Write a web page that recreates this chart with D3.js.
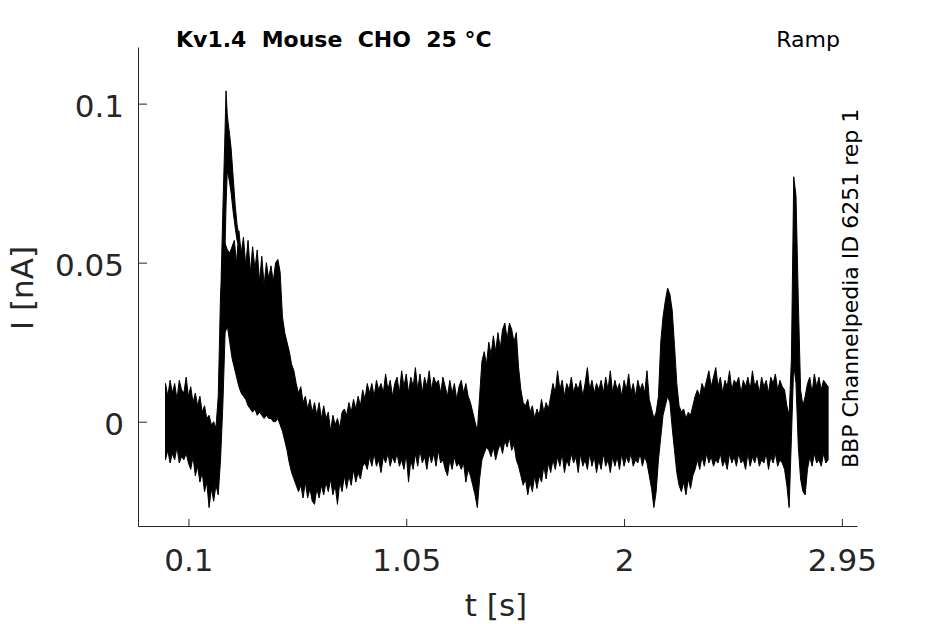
<!DOCTYPE html>
<html>
<head>
<meta charset="utf-8">
<script src="https://cdn.jsdelivr.net/npm/d3@7"></script>
<style>
  body { margin: 0; background: #fff; }
  svg { font-family: "DejaVu Sans", sans-serif; }
  .axis path, .axis line { stroke: #262626; stroke-width: 1; }
  .axis text { fill: #262626; font-size: 31px; font-family: "DejaVu Sans", sans-serif; }
</style>
</head>
<body>
<svg class="one"></svg>
<script>
// trace sampled every 10 ms from t = 0, envelope (max / min over reps) in pA
var sampleStart = 0;
var sampleStep = 0.01;

var traceHi = [
  12, 8, 13, 9, 12, 7, 13, 10, 9, 14,
  8, 11, 6, 9, 5, 8, 3, 5, 1, 2,
  -1, 0, -2, 8, 40, 52, 56, 54, 53, 55,
  57, 50, 60, 53, 58, 49, 57, 47, 55, 48,
  54, 44, 52, 43, 50, 45, 49, 44, 50, 51,
  47, 33, 28, 25, 22, 18, 16, 12, 9, 11,
  6, 8, 4, 7, 3, 6, 2, 6, 1, 5,
  1, 3, -3, 2, -1, 1, -2, 3, 4, 2,
  6, 3, 7, 4, 8, 5, 10, 7, 12, 9,
  12, 8, 13, 10, 12, 9, 15, 10, 13, 8,
  12, 14, 9, 16, 11, 15, 9, 14, 11, 17,
  10, 15, 9, 14, 11, 16, 10, 14, 12, 13,
  9, 14, 11, 8, 13, 9, 12, 7, 11, 13,
  9, 12, 8, 6, 3, 0, -3, 8, 19, 22,
  18, 25, 21, 27, 22, 28, 23, 29, 31, 26,
  31, 29, 25, 28, 17, 10, 6, 5, 7, 3,
  5, 1, 4, 2, 7, 3, 6, 4, 8, 12,
  9, 16, 10, 13, 8, 12, 10, 14, 9, 12,
  10, 13, 8, 12, 17, 10, 13, 9, 12, 10,
  13, 9, 14, 10, 16, 9, 13, 10, 12, 8,
  13, 10, 15, 9, 12, 8, 13, 10, 12, 9,
  16, 7, 4, 1, 3, 8, 25, 33, 38, 42,
  40, 35, 24, 12, 5, 3, 4, 1, 3, 2,
  5, 8, 10, 8, 12, 10, 13, 16, 11, 14,
  17, 11, 14, 9, 13, 11, 16, 10, 13, 12,
  14, 9, 13, 11, 14, 10, 16, 11, 13, 9,
  14, 11, 13, 9, 14, 12, 15, 10, 13, 11,
  10, 5, 2, 20, 77, 71, 38, 10, 5, 8,
  12, 14, 9, 15, 11, 14, 10, 13, 12, 11
];

var traceLo = [
  -12, -9, -13, -10, -12, -8, -13, -11, -12, -10,
  -13, -15, -11, -17, -14, -19, -16, -22, -19, -27,
  -21, -25, -20, -23, -12, 5, 28, 30, 25, 20,
  17, 14, 11, 9, 8, 7, 5, 4, 3, 4,
  2, 3, 2, 1, 2, 1, 1, 0, 0, 1,
  -1, -3, -6, -9, -13, -16, -18, -20, -22, -20,
  -24, -19, -24, -21, -25, -26, -21, -24, -20, -23,
  -19, -22, -18, -23, -20, -26, -19, -22, -17, -21,
  -17, -20, -15, -19, -16, -18, -14, -13, -15, -11,
  -14, -10, -14, -12, -16, -11, -13, -10, -14, -11,
  -13, -10, -14, -12, -15, -10, -19, -12, -15, -10,
  -14, -9, -13, -11, -15, -10, -13, -10, -14, -9,
  -13, -12, -15, -17, -12, -15, -11, -14, -13, -15,
  -13, -19, -15, -17, -20, -23, -27, -18, -12, -10,
  -8, -9, -11, -8, -12, -9, -7, -10, -6, -8,
  -5, -9, -7, -12, -14, -17, -20, -18, -23, -19,
  -22, -17, -21, -17, -19, -14, -18, -13, -16, -12,
  -15, -11, -14, -10, -16, -12, -14, -10, -13, -11,
  -16, -10, -14, -12, -15, -10, -14, -11, -16, -12,
  -15, -10, -14, -12, -16, -11, -14, -11, -15, -10,
  -14, -11, -13, -10, -14, -12, -13, -10, -14, -11,
  -13, -17, -21, -27, -22, -12, -5, 2, 5, 8,
  6, -2, -9, -16, -20, -22, -19, -23, -18, -21,
  -17, -15, -12, -15, -11, -14, -10, -13, -11, -14,
  -12, -13, -10, -14, -12, -15, -10, -13, -11, -14,
  -10, -13, -12, -15, -10, -14, -11, -13, -10, -14,
  -12, -13, -10, -15, -11, -13, -10, -14, -12, -13,
  -15, -20, -27, -5, 18, 12, -8, -18, -22, -23,
  -15, -11, -14, -10, -13, -12, -14, -10, -13, -12
];

// the single large transient right after the step
var peakT  = [0.243, 0.251, 0.258, 0.264, 0.269, 0.273, 0.280, 0.286, 0.295, 0.304, 0.312, 0.321];
var peakHi = [46, 69, 87, 104, 97, 94, 90, 86, 77, 68, 62, 58];
var peakLo = [0, 30, 50, 68, 78, 78, 75, 72, 66, 61, 57, 55];

var xTicks = [0.1, 1.05, 2, 2.95];
var yTicks = [0, 0.05, 0.1];

var titleText = 'Kv1.4\u00a0\u00a0Mouse\u00a0\u00a0CHO\u00a0\u00a025 \u00b0C';
var protocolText = 'Ramp';
var sideText = 'BBP Channelpedia ID 6251 rep 1';

var svgwidth = 945;
var svgheight = 624;

var svg = d3.select('.one')
            .attr('width', svgwidth)
            .attr('height', svgheight);

var xScale = d3.scaleLinear()
               .domain([-0.12, 3.016])
               .range([138, 857]);

var yScale = d3.scaleLinear()
               .domain([-0.0328, 0.1178])
               .range([526, 47]);

var trace = traceHi.map(function(d, i){
  return {t: sampleStart + i*sampleStep, hi: d/1000, lo: traceLo[i]/1000};
});

var peak = peakT.map(function(d, i){
  return {t: d, hi: peakHi[i]/1000, lo: peakLo[i]/1000};
});

var areamake = d3.area()
                 .x(function(d){ return xScale(d.t); })
                 .y0(function(d){ return yScale(d.lo); })
                 .y1(function(d){ return yScale(d.hi); });

svg.append('path')
   .datum(trace)
   .attr('d', areamake)
   .attr('fill', '#000')
   .attr('stroke', '#000')
   .attr('stroke-width', 1)
   .attr('stroke-linejoin', 'round');

svg.append('path')
   .datum(peak)
   .attr('d', areamake)
   .attr('fill', '#000')
   .attr('stroke', '#000')
   .attr('stroke-width', 1)
   .attr('stroke-linejoin', 'round');

var xAxis = d3.axisBottom(xScale)
              .tickValues(xTicks)
              .tickFormat(function(d){ return String(d); })
              .tickSizeInner(-7)
              .tickSizeOuter(0)
              .tickPadding(23);

svg.append('g').classed('axis', true)
   .attr('transform', 'translate(0,526)')
   .call(xAxis);

var yAxis = d3.axisLeft(yScale)
              .tickValues(yTicks)
              .tickFormat(function(d){ return String(d); })
              .tickSizeInner(-9)
              .tickSizeOuter(0)
              .tickPadding(14);

svg.append('g').classed('axis', true)
   .attr('transform', 'translate(138,0)')
   .call(yAxis)
   .selectAll('text').attr('dy', '0.42em');

svg.selectAll('.axis .domain').attr('fill', 'none');

// labels
svg.append('text')
   .attr('x', 496).attr('y', 616)
   .attr('text-anchor', 'middle')
   .attr('fill', '#262626')
   .style('font-size', '31px')
   .text('t [s]');

svg.append('text')
   .attr('transform', 'translate(33,288) rotate(-90)')
   .attr('text-anchor', 'middle')
   .attr('fill', '#262626')
   .style('font-size', '31px')
   .text('I [nA]');

svg.append('text')
   .attr('x', 176).attr('y', 47)
   .attr('fill', '#000')
   .style('font-size', '22px')
   .style('font-weight', 'bold')
   .text(titleText);

svg.append('text')
   .attr('x', 840).attr('y', 47)
   .attr('text-anchor', 'end')
   .attr('fill', '#000')
   .style('font-size', '22px')
   .text(protocolText);

svg.append('text')
   .attr('transform', 'translate(858,468) rotate(-90)')
   .attr('fill', '#000')
   .style('font-size', '22px')
   .text(sideText);
</script>
</body>
</html>
